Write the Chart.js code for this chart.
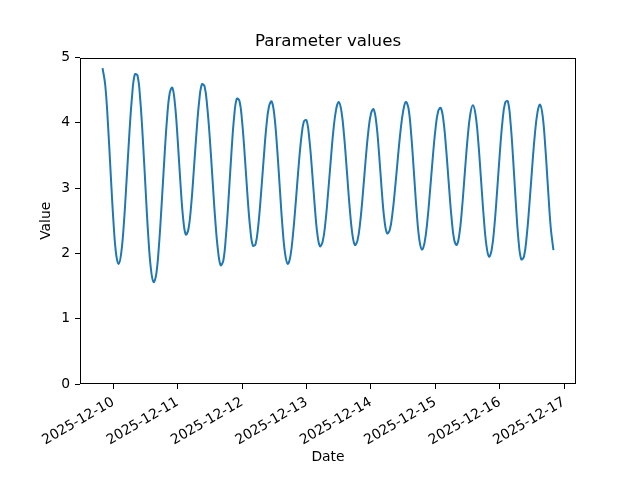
<!DOCTYPE html>
<html>
<head>
<meta charset="utf-8">
<script src="https://cdn.jsdelivr.net/npm/chart.js@4.4.1/dist/chart.umd.min.js"></script>
<style>
html,body{margin:0;padding:0;background:#ffffff;}
#wrap{width:640px;height:480px;}
</style>
</head>
<body>
<div id="wrap"><canvas id="c" width="640" height="480"></canvas></div>
<script>
// ---- data ----
const chartTitle = 'Parameter values';
const xAxisTitle = 'Date';
const yAxisTitle = 'Value';
const seriesStart = '2025-12-09T20:00:00Z';   // first sample
const sampleStepHours = 1;                     // hourly samples
const values = [
  4.84, 4.58, 4.00, 3.25, 2.53, 2.01, 1.84, 2.02, 2.49, 3.15, 3.84, 4.41,
  4.74, 4.73, 4.38, 3.76, 3.01, 2.29, 1.77, 1.56, 1.68, 2.11, 2.74, 3.43,
  4.05, 4.45, 4.54, 4.28, 3.74, 3.09, 2.55, 2.29, 2.37, 2.73, 3.27, 3.85,
  4.33, 4.59, 4.56, 4.25, 3.74, 3.12, 2.51, 2.05, 1.82, 1.89, 2.28, 2.87,
  3.53, 4.08, 4.37, 4.34, 4.02, 3.49, 2.89, 2.39, 2.12, 2.14, 2.42, 2.89,
  3.43, 3.93, 4.25, 4.33, 4.12, 3.64, 3.03, 2.43, 2.00, 1.84, 1.96, 2.31,
  2.79, 3.31, 3.75, 4.02, 4.04, 3.77, 3.30, 2.76, 2.31, 2.11, 2.18, 2.46,
  2.91, 3.41, 3.88, 4.20, 4.32, 4.18, 3.80, 3.28, 2.74, 2.32, 2.13, 2.20,
  2.48, 2.92, 3.42, 3.86, 4.14, 4.21, 4.00, 3.54, 2.98, 2.52, 2.31, 2.36,
  2.61, 3.00, 3.45, 3.87, 4.18, 4.32, 4.22, 3.82, 3.25, 2.66, 2.22, 2.06,
  2.17, 2.49, 2.95, 3.45, 3.89, 4.17, 4.23, 4.04, 3.61, 3.07, 2.56, 2.21,
  2.13, 2.31, 2.72, 3.25, 3.76, 4.13, 4.27, 4.12, 3.71, 3.14, 2.57, 2.13,
  1.95, 2.06, 2.42, 2.95, 3.53, 4.02, 4.31, 4.33, 4.01, 3.43, 2.76, 2.19,
  1.91, 1.95, 2.25, 2.73, 3.28, 3.79, 4.15, 4.28, 4.10, 3.61, 2.98, 2.39,
  2.05
];
const xTickLabels = ['2025-12-10','2025-12-11','2025-12-12','2025-12-13','2025-12-14','2025-12-15','2025-12-16','2025-12-17'];
const xRangeStart = '2025-12-09T11:36:00Z';
const xRangeEnd = '2025-12-17T04:24:00Z';
const yTickValues = [0, 1, 2, 3, 4, 5];

// ---- build ----
const HOUR = 3600000;
const t0 = Date.parse(seriesStart);
const points = values.map((v, i) => ({ x: t0 + i * sampleStepHours * HOUR, y: v }));
const xTickTimes = xTickLabels.map(d => Date.parse(d + 'T00:00:00Z'));

const FONT = 'DejaVu Sans';
const TICK_PX = 13.89;

const framePlugin = {
  id: 'frame',
  afterDatasetsDraw(chart) {
    const a = chart.chartArea, ctx = chart.ctx;
    ctx.save();
    ctx.strokeStyle = '#000';
    ctx.lineWidth = 1;
    ctx.strokeRect(Math.round(a.left) + 0.5, Math.round(a.top) + 0.5,
                   Math.round(a.right - a.left) - 1, Math.round(a.bottom - a.top) - 1);
    ctx.restore();
  }
};

new Chart(document.getElementById('c'), {
  type: 'line',
  data: {
    datasets: [{
      data: points,
      borderColor: '#1f77b4',
      backgroundColor: '#1f77b4',
      borderWidth: 2,
      pointRadius: 0,
      tension: 0.4,
      fill: false
    }]
  },
  options: {
    responsive: false,
    animation: false,
    devicePixelRatio: 1,
    layout: { padding: { left: 0, right: 64, top: 0, bottom: 0 } },
    plugins: {
      legend: { display: false },
      tooltip: { enabled: false },
      title: {
        display: true,
        fullSize: false,
        text: chartTitle,
        color: '#000',
        font: { family: FONT, size: 16.67, weight: 'normal' },
        padding: { top: 32, bottom: 5.6 }
      }
    },
    scales: {
      x: {
        type: 'linear',
        min: Date.parse(xRangeStart),
        max: Date.parse(xRangeEnd),
        afterBuildTicks: s => { s.ticks = xTickTimes.map(v => ({ value: v })); },
        afterFit: s => { s.height = 96; },
        ticks: {
          autoSkip: false,
          minRotation: 30,
          maxRotation: 30,
          color: '#000',
          font: { family: FONT, size: TICK_PX },
          padding: 5,
          callback: (v, i) => xTickLabels[i]
        },
        grid: { drawOnChartArea: false, drawTicks: true, tickLength: 5, tickColor: '#000', tickWidth: 1 },
        border: { display: false },
        title: {
          display: true, text: xAxisTitle, color: '#000',
          font: { family: FONT, size: TICK_PX },
          padding: { top: 0, bottom: 14.5 }
        }
      },
      y: {
        type: 'linear',
        min: 0,
        max: 5,
        afterBuildTicks: s => { s.ticks = yTickValues.map(v => ({ value: v })); },
        afterFit: s => { s.width = 80; },
        ticks: {
          color: '#000',
          font: { family: FONT, size: TICK_PX },
          padding: 5,
          callback: v => String(v)
        },
        grid: { drawOnChartArea: false, drawTicks: true, tickLength: 5, tickColor: '#000', tickWidth: 1 },
        border: { display: false },
        title: {
          display: true, text: yAxisTitle, color: '#000',
          font: { family: FONT, size: TICK_PX },
          padding: { top: 38, bottom: 0 }
        }
      }
    }
  },
  plugins: [framePlugin]
});
</script>
</body>
</html>
